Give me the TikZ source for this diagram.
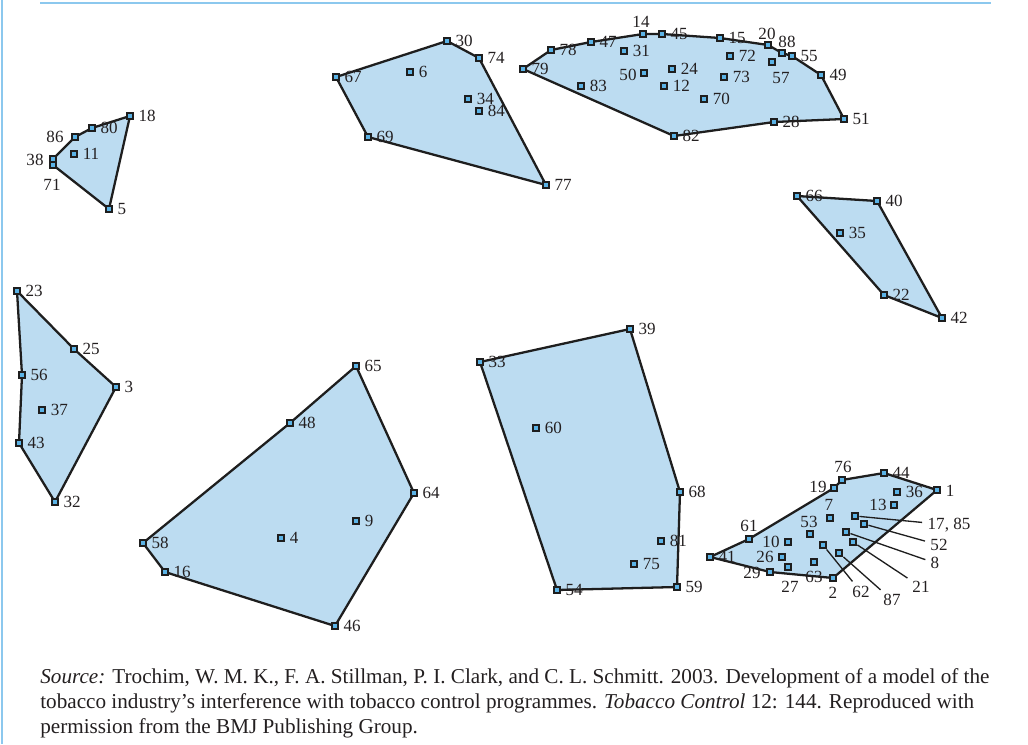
\documentclass[tikz,border=0pt]{standalone}
\usepackage{fontspec}
\setmainfont{Liberation Serif}
\definecolor{regc}{HTML}{BCDCF1}
\definecolor{markc}{HTML}{5BB3E6}
\definecolor{edgec}{HTML}{1E1E1E}
\definecolor{framec}{HTML}{8CC8EE}
\definecolor{txtc}{HTML}{231F20}
\newcommand{\lblfont}{\fontsize{9.7}{10}\selectfont}
\newcommand{\capfont}{\fontsize{12.05}{14}\selectfont}
\tikzset{
  vtx/.style={shape=rectangle, draw=edgec, fill=markc, line width=1.05pt, minimum size=3.7pt, inner sep=0pt},
  inn/.style={shape=rectangle, draw=edgec, fill=markc, line width=1.45pt, minimum size=3.6pt, inner sep=0pt},
  lbl/.style={font=\lblfont, inner sep=1pt, text=txtc},
  region/.style={fill=regc, draw=edgec, line width=1.3pt, line join=round},
  leader/.style={draw=edgec, line width=0.75pt, shorten >=2pt},
  frameline/.style={draw=framec},
  captxt/.style={font=\capfont, text=txtc, inner sep=0pt, anchor=base west},
  every label/.style={lbl},
  label distance=1.3pt
}
\begin{document}
\begin{tikzpicture}[x=0.02cm,y=-0.02cm]
\useasboundingbox (0,0) rectangle (1028,744);
\draw[frameline, line width=1.2pt] (40,3) -- (991,3);
\draw[frameline, line width=1.7pt] (2,0) -- (2,744);
% ---------- coordinates
% cluster A
\coordinate (c18) at (130,116); \coordinate (c80) at (92,128); \coordinate (c86) at (75,137);
\coordinate (c38) at (53,159); \coordinate (c71) at (53,165); \coordinate (c5) at (109,209);
\coordinate (c11) at (74,154);
% cluster B
\coordinate (c30) at (447,41); \coordinate (c74) at (479,58); \coordinate (c77) at (546,185);
\coordinate (c69) at (368,137); \coordinate (c67) at (336,77);
\coordinate (c6) at (410,72); \coordinate (c34) at (468,99); \coordinate (c84) at (479,111);
% cluster C
\coordinate (c79) at (523,69); \coordinate (c78) at (551,50); \coordinate (c47) at (591,42);
\coordinate (c14) at (643,34); \coordinate (c45) at (662,34); \coordinate (c15) at (720,38);
\coordinate (c20) at (768,45); \coordinate (c88) at (782,53); \coordinate (c55) at (792,56);
\coordinate (c49) at (821,75); \coordinate (c51) at (844,119); \coordinate (c28) at (774,122);
\coordinate (c82) at (674,136);
\coordinate (c31) at (624,51); \coordinate (c72) at (730,56); \coordinate (c57) at (772,62);
\coordinate (c50) at (644,73); \coordinate (c24) at (672,69); \coordinate (c12) at (664,86);
\coordinate (c73) at (724,77); \coordinate (c83) at (581,86); \coordinate (c70) at (704,99);
% cluster D
\coordinate (c66) at (797,196); \coordinate (c40) at (877,201); \coordinate (c42) at (942,318);
\coordinate (c22) at (884,295); \coordinate (c35) at (840,233);
% cluster E
\coordinate (c23) at (17,291); \coordinate (c25) at (74,349); \coordinate (c3) at (116,387);
\coordinate (c32) at (55,502); \coordinate (c43) at (19,443); \coordinate (c56) at (22,375);
\coordinate (c37) at (42,410);
% cluster F
\coordinate (c65) at (356,366); \coordinate (c64) at (414,493); \coordinate (c46) at (335,626);
\coordinate (c16) at (165,572); \coordinate (c58) at (143,543); \coordinate (c48) at (290,423);
\coordinate (c9) at (356,521); \coordinate (c4) at (281,538);
% cluster G
\coordinate (c33) at (480,362); \coordinate (c39) at (630,329); \coordinate (c68) at (680,492);
\coordinate (c59) at (677,587); \coordinate (c54) at (557,590);
\coordinate (c60) at (536,428); \coordinate (c81) at (661,541); \coordinate (c75) at (634,564);
% cluster H
\coordinate (c41) at (710,557); \coordinate (c61) at (749,539); \coordinate (c19) at (834,488);
\coordinate (c76) at (842,480); \coordinate (c44) at (884,473); \coordinate (c1) at (937,490);
\coordinate (c2) at (833,578); \coordinate (c29) at (770,572);
\coordinate (c36) at (897,492); \coordinate (c13) at (894,505); \coordinate (c7) at (830,518);
\coordinate (c1785) at (855,516); \coordinate (c52) at (864,524); \coordinate (c53) at (810,534);
\coordinate (c8) at (846,532); \coordinate (c21) at (853,542); \coordinate (c10) at (788,542);
\coordinate (c62) at (823,545); \coordinate (c26) at (782,557); \coordinate (c87) at (839,553);
\coordinate (c63) at (814,562); \coordinate (c27) at (788,567);
% ---------- regions
\filldraw[region] (c18) -- (c5) -- (c71) -- (c38) -- (c86) -- (c80) -- cycle;
\filldraw[region] (c67) -- (c30) -- (c74) -- (c77) -- (c69) -- cycle;
\filldraw[region] (c79) -- (c78) -- (c47) -- (c14) -- (c45) -- (c15) -- (c20) -- (c88) -- (c55) -- (c49) -- (c51) -- (c28) -- (c82) -- cycle;
\filldraw[region] (c66) -- (c40) -- (c42) -- (c22) -- cycle;
\filldraw[region] (c23) -- (c25) -- (c3) -- (c32) -- (c43) -- (c56) -- cycle;
\filldraw[region] (c65) -- (c64) -- (c46) -- (c16) -- (c58) -- (c48) -- cycle;
\filldraw[region] (c33) -- (c39) -- (c68) -- (c59) -- (c54) -- cycle;
\filldraw[region] (c41) -- (c61) -- (c19) -- (c76) -- (c44) -- (c1) -- (c2) -- (c29) -- cycle;
% ---------- markers: cluster A
\node[vtx, label=right:18] (p18) at (c18) {};
\node[vtx, label=right:80] (p80) at (c80) {};
\node[vtx] (p86) at (c86) {}; \node[lbl] (l86) at (55,137) {86};
\node[vtx] (p38) at (c38) {}; \node[lbl] (l38) at (35,160) {38};
\node[vtx] (p71) at (c71) {}; \node[lbl] (l71) at (52,185) {71};
\node[vtx, label=right:5] (p5) at (c5) {};
\node[inn, label=right:11] (p11) at (c11) {};
% cluster B
\node[vtx, label=right:30] (p30) at (c30) {};
\node[vtx, label=right:74] (p74) at (c74) {};
\node[vtx, label=right:77] (p77) at (c77) {};
\node[vtx, label=right:69] (p69) at (c69) {};
\node[vtx, label=right:67] (p67) at (c67) {};
\node[inn, label=right:6] (p6) at (c6) {};
\node[inn, label=right:34] (p34) at (c34) {};
\node[inn, label=right:84] (p84) at (c84) {};
% cluster C
\node[vtx, label=right:79] (p79) at (c79) {};
\node[vtx, label=right:78] (p78) at (c78) {};
\node[vtx, label=right:47] (p47) at (c47) {};
\node[vtx] (p14) at (c14) {}; \node[lbl] (l14) at (641,22) {14};
\node[vtx, label=right:45] (p45) at (c45) {};
\node[vtx, label=right:15] (p15) at (c15) {};
\node[vtx] (p20) at (c20) {}; \node[lbl] (l20) at (767,34) {20};
\node[vtx] (p88) at (c88) {}; \node[lbl] (l88) at (787,42) {88};
\node[vtx, label=right:55] (p55) at (c55) {};
\node[vtx, label=right:49] (p49) at (c49) {};
\node[vtx, label=right:51] (p51) at (c51) {};
\node[vtx, label=right:28] (p28) at (c28) {};
\node[vtx, label=right:82] (p82) at (c82) {};
\node[inn, label=right:31] (p31) at (c31) {};
\node[inn, label=right:72] (p72) at (c72) {};
\node[inn] (p57) at (c57) {}; \node[lbl] (l57) at (781,78) {57};
\node[inn] (p50) at (c50) {}; \node[lbl] (l50) at (628,75) {50};
\node[inn, label=right:24] (p24) at (c24) {};
\node[inn, label=right:12] (p12) at (c12) {};
\node[inn, label=right:73] (p73) at (c73) {};
\node[inn, label=right:83] (p83) at (c83) {};
\node[inn, label=right:70] (p70) at (c70) {};
% cluster D
\node[vtx, label=right:66] (p66) at (c66) {};
\node[vtx, label=right:40] (p40) at (c40) {};
\node[vtx, label=right:42] (p42) at (c42) {};
\node[vtx, label=right:22] (p22) at (c22) {};
\node[inn, label=right:35] (p35) at (c35) {};
% cluster E
\node[vtx, label=right:23] (p23) at (c23) {};
\node[vtx, label=right:25] (p25) at (c25) {};
\node[vtx, label=right:3] (p3) at (c3) {};
\node[vtx, label=right:32] (p32) at (c32) {};
\node[vtx, label=right:43] (p43) at (c43) {};
\node[vtx, label=right:56] (p56) at (c56) {};
\node[inn, label=right:37] (p37) at (c37) {};
% cluster F
\node[vtx, label=right:65] (p65) at (c65) {};
\node[vtx, label=right:64] (p64) at (c64) {};
\node[vtx, label=right:46] (p46) at (c46) {};
\node[vtx, label=right:16] (p16) at (c16) {};
\node[vtx, label=right:58] (p58) at (c58) {};
\node[vtx, label=right:48] (p48) at (c48) {};
\node[inn, label=right:9] (p9) at (c9) {};
\node[inn, label=right:4] (p4) at (c4) {};
% cluster G
\node[vtx, label=right:33] (p33) at (c33) {};
\node[vtx, label=right:39] (p39) at (c39) {};
\node[vtx, label=right:68] (p68) at (c68) {};
\node[vtx, label=right:59] (p59) at (c59) {};
\node[vtx, label=right:54] (p54) at (c54) {};
\node[inn, label=right:60] (p60) at (c60) {};
\node[inn, label=right:81] (p81) at (c81) {};
\node[inn, label=right:75] (p75) at (c75) {};
% cluster H
\node[vtx, label=right:41] (p41) at (c41) {};
\node[vtx] (p61) at (c61) {}; \node[lbl] (l61) at (749,526) {61};
\node[vtx] (p19) at (c19) {}; \node[lbl] (l19) at (818,487) {19};
\node[vtx] (p76) at (c76) {}; \node[lbl] (l76) at (843,467) {76};
\node[vtx, label=right:44] (p44) at (c44) {};
\node[vtx] (p1) at (c1) {}; \node[lbl] (l1) at (950,491) {1};
\node[vtx] (p2) at (c2) {}; \node[lbl] (l2) at (833,593) {2};
\node[vtx] (p29) at (c29) {}; \node[lbl] (l29) at (752,573) {29};
\node[inn, label=right:36] (p36) at (c36) {};
\node[inn] (p13) at (c13) {}; \node[lbl] (l13) at (878,505) {13};
\node[inn] (p7) at (c7) {}; \node[lbl] (l7) at (829,505) {7};
\node[inn] (p53) at (c53) {}; \node[lbl] (l53) at (809,522) {53};
\node[inn] (p10) at (c10) {}; \node[lbl] (l10) at (771,542) {10};
\node[inn] (p26) at (c26) {}; \node[lbl] (l26) at (765,557) {26};
\node[inn] (p63) at (c63) {}; \node[lbl] (l63) at (814,577) {63};
\node[inn] (p27) at (c27) {}; \node[lbl] (l27) at (790,587) {27};
\node[inn] (p1785) at (c1785) {}; \node[lbl] (l1785) at (949,525) {17, 85};
\node[inn] (p52) at (c52) {}; \node[lbl] (l52) at (939,545) {52};
\node[inn] (p8) at (c8) {}; \node[lbl] (l8) at (935,563) {8};
\node[inn] (p21) at (c21) {}; \node[lbl] (l21) at (921,587) {21};
\node[inn] (p62) at (c62) {}; \node[lbl] (l62) at (861,592) {62};
\node[inn] (p87) at (c87) {}; \node[lbl] (l87) at (892,600) {87};
\draw[leader] (p1785) -- (l1785);
\draw[leader] (p52) -- (l52);
\draw[leader] (p8) -- (l8);
\draw[leader] (p21) -- (l21);
\draw[leader] (p62) -- (l62);
\draw[leader] (p87) -- (l87);
% ---------- caption
\node[captxt] (cap1) at (40,683) {\textit{Source:} Trochim, W. M. K., F. A. Stillman, P. I. Clark, and C. L. Schmitt. 2003. Development of a model of the};
\node[captxt] (cap2) at (40,708) {tobacco industry's interference with tobacco control programmes. \textit{Tobacco Control} 12: 144. Reproduced with};
\node[captxt] (cap3) at (40,733) {permission from the BMJ Publishing Group.};
\end{tikzpicture}
\end{document}
